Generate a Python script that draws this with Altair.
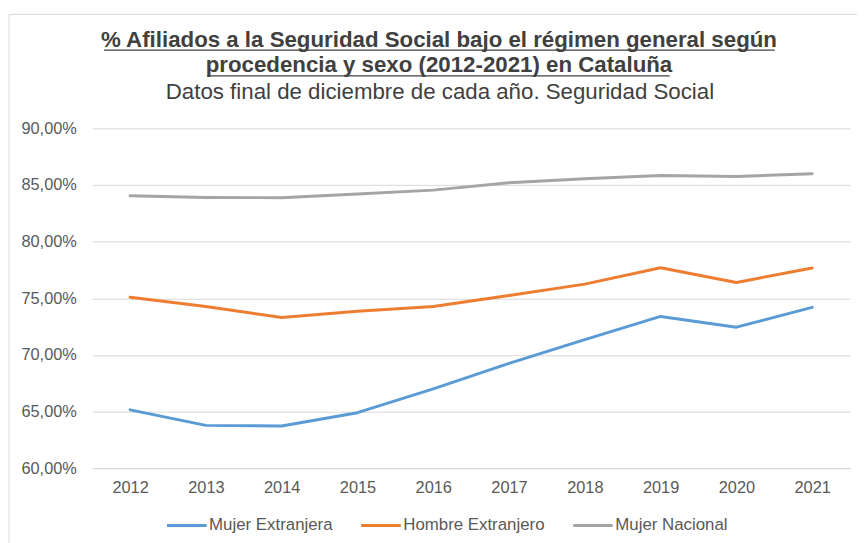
import altair as alt
import pandas as pd

years = ["2012", "2013", "2014", "2015", "2016", "2017", "2018", "2019", "2020", "2021"]
series_names = ["Mujer Extranjera", "Hombre Extranjero", "Mujer Nacional"]
mujer_extranjera = [65.15, 63.78, 63.72, 64.9, 67.0, 69.25, 71.35, 73.4, 72.45, 74.2]
hombre_extranjero = [75.1, 74.28, 73.3, 73.85, 74.28, 75.25, 76.25, 77.7, 76.4, 77.67]
mujer_nacional = [84.05, 83.9, 83.88, 84.2, 84.55, 85.2, 85.55, 85.85, 85.75, 86.0]
colors = ["#5B9BD5", "#ED7D31", "#A5A5A5"]
y_ticks = [60, 65, 70, 75, 80, 85, 90]
title_lines = ["% Afiliados a la Seguridad Social bajo el régimen general según",
               "procedencia y sexo (2012-2021) en Cataluña"]
subtitle = "Datos final de diciembre de cada año. Seguridad Social"

rows = []
for name, vals in zip(series_names, [mujer_extranjera, hombre_extranjero, mujer_nacional]):
    for yr, v in zip(years, vals):
        rows.append({"Año": yr, "Serie": name, "Valor": v})
df = pd.DataFrame(rows)

FONT = "Liberation Sans"

lines = alt.Chart(df).mark_line(strokeWidth=3, strokeCap="round", strokeJoin="round").encode(
    x=alt.X("Año:O", sort=years, title=None,
            scale=alt.Scale(type="point", padding=0.5),
            axis=alt.Axis(labelAngle=0, ticks=False, domain=True, domainColor="#d9d9d9",
                          labelFontSize=16.5, labelColor="#595959", labelFont=FONT,
                          labelPadding=12, grid=False)),
    y=alt.Y("Valor:Q", title=None,
            scale=alt.Scale(domain=[60, 90], nice=False, zero=False),
            axis=alt.Axis(values=y_ticks, ticks=False, domain=False,
                          labelExpr="replace(format(datum.value, '.2f'), '.', ',') + '%'",
                          labelFontSize=16.5, labelColor="#595959", labelFont=FONT,
                          labelPadding=16, gridColor="#d9d9d9", gridWidth=1)),
    color=alt.Color("Serie:N", sort=series_names,
                    scale=alt.Scale(domain=series_names, range=colors),
                    legend=alt.Legend(title=None, orient="none", direction="horizontal",
                                      legendX=74, legendY=379,
                                      symbolType="stroke", symbolSize=1600,
                                      symbolStrokeWidth=3, labelFontSize=17,
                                      labelColor="#595959", labelFont=FONT,
                                      labelOffset=1, columnPadding=22)),
)

deco = pd.DataFrame({"k": [0]})
t1 = alt.Chart(deco).mark_text(font=FONT, fontSize=22.5, fontWeight="bold", color="#404040",
                               align="center", baseline="alphabetic").encode(
    x=alt.value(350), y=alt.value(-82), text=alt.value(title_lines[0]))
t2 = alt.Chart(deco).mark_text(font=FONT, fontSize=22.5, fontWeight="bold", color="#404040",
                               align="center", baseline="alphabetic").encode(
    x=alt.value(350), y=alt.value(-57), text=alt.value(title_lines[1]))
t3 = alt.Chart(deco).mark_text(font=FONT, fontSize=22.5, color="#404040",
                               align="center", baseline="alphabetic").encode(
    x=alt.value(351), y=alt.value(-30), text=alt.value(subtitle))
underline1 = alt.Chart(deco).mark_rule(color="#404040", strokeWidth=1.5).encode(
    x=alt.value(12), x2=alt.value(689), y=alt.value(-79))
underline2 = alt.Chart(deco).mark_rule(color="#404040", strokeWidth=1.5).encode(
    x=alt.value(116), x2=alt.value(583), y=alt.value(-53))
border_top = alt.Chart(deco).mark_rule(color="#d9d9d9", strokeWidth=1).encode(
    x=alt.value(-84), x2=alt.value(800), y=alt.value(-115))
border_left = alt.Chart(deco).mark_rule(color="#d9d9d9", strokeWidth=1).encode(
    x=alt.value(-84), y=alt.value(-115), y2=alt.value(430))

chart = alt.layer(border_top, border_left, lines, t1, t2, t3, underline1, underline2).properties(
    width=765, height=343,
    autosize=alt.AutoSizeParams(type="none"),
    padding={"left": 85, "top": 119, "right": 7, "bottom": 73},
).configure_view(stroke=None)

chart.save("out.html", embed_options={"renderer": "svg", "actions": False})
